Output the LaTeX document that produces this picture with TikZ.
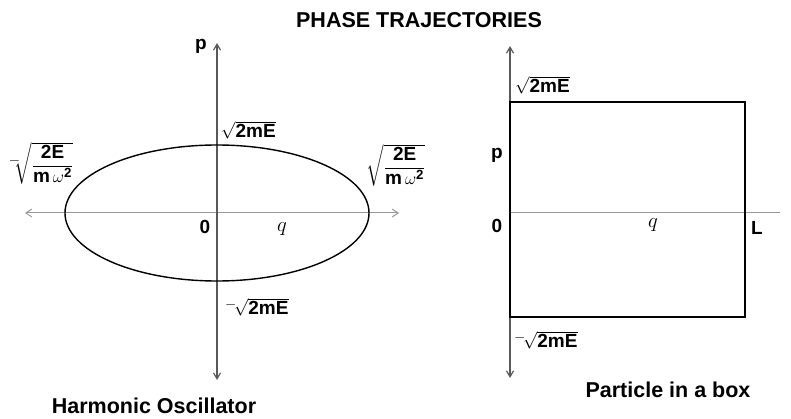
\documentclass[tikz,border=0pt]{standalone}
\usepackage{amsmath}
\usepackage{fontspec}
\setmainfont{Liberation Sans}
\usetikzlibrary{arrows.meta}

\begin{document}
\begin{tikzpicture}[x=1pt,y=-1pt,
  vaxis/.style={draw=black!65,line width=1.2pt,{Straight Barb[length=6pt,width=7pt]}-{Straight Barb[length=6pt,width=7pt]}},
  haxis/.style={draw=black!40,line width=1pt},
  curve/.style={draw=black,line width=1.4pt},
  lbl/.style={font=\fontsize{19}{21}\selectfont\bfseries,inner sep=0pt},
  heading/.style={font=\fontsize{21.5}{24}\selectfont\bfseries,inner sep=0pt}]
\useasboundingbox (0,0) rectangle (791,419);
\node[heading] (title) at (419,20) {PHASE TRAJECTORIES};
% harmonic oscillator
\coordinate (o1) at (217,213);
\coordinate (pT1) at (217,43);\coordinate (pB1) at (217,380);
\coordinate (qL1) at (25,213);\coordinate (qR1) at (399,213);
\draw[haxis,{Straight Barb[length=6pt,width=8pt]}-{Straight Barb[length=6pt,width=8pt]}] (qL1)--(qR1);
\draw[vaxis] (pT1)--(pB1);
\draw[curve] (o1) ellipse [x radius=152pt,y radius=68pt];
\node[lbl] (p1) at (201,46) {p};
\node[lbl] (z1) at (205,227) {0};
\node[font=\fontsize{22}{24}\selectfont,inner sep=0pt] (q1) at (282,229) {$q$};
\node[lbl,anchor=west] (top1) at (221,130) {$\sqrt{\text{2mE}}$};
\node[lbl,anchor=west] (bot1) at (225,307) {$^{-}\!\sqrt{\text{2mE}}$};
\node[lbl] (xl1) at (41,163) {$^{-}\!\!\sqrt{\dfrac{\text{2E}}{\text{m}\,\omega^{\text{2}}}}$};
\node[lbl] (xr1) at (396,165) {$\sqrt{\dfrac{\text{2E}}{\text{m}\,\omega^{\text{2}}}}$};
\node[heading] (name1) at (154,406) {Harmonic Oscillator};
% particle in a box
\coordinate (o2) at (510,213);
\coordinate (pT2) at (510,46);\coordinate (pB2) at (510,378);
\coordinate (qR2) at (780,213);
\draw[haxis] (o2)--(qR2);
\draw[vaxis] (pT2)--(pB2);
\draw[curve,line width=1.8pt] (510,102) rectangle (745,317);
\node[lbl] (p2) at (497,155) {p};
\node[lbl] (z2) at (497,226) {0};
\node[font=\fontsize{22}{24}\selectfont,inner sep=0pt] (q2) at (653,225) {$q$};
\node[lbl] (l2) at (757,228) {L};
\node[lbl,anchor=west] (top2) at (515,85) {$\sqrt{\text{2mE}}$};
\node[lbl,anchor=west] (bot2) at (514,340) {$^{-}\!\sqrt{\text{2mE}}$};
\node[heading] (name2) at (668,390) {Particle in a box};
\end{tikzpicture}
\end{document}
